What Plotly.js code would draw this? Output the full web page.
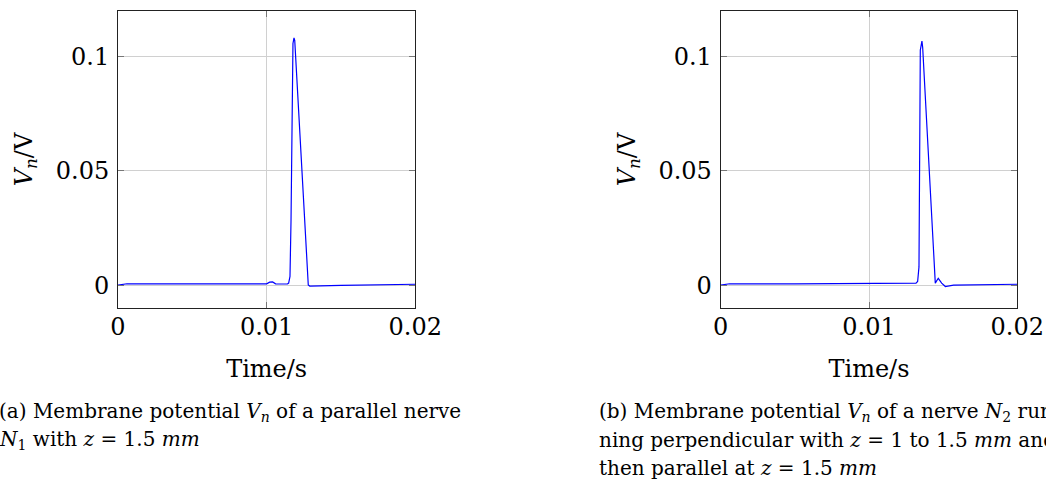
<!DOCTYPE html>
<html>
<head>
<meta charset="utf-8">
<script src="https://cdn.plot.ly/plotly-3.0.1.min.js"></script>
<style>
html,body{margin:0;padding:0;background:#fff;}
#chart{width:1046px;height:479px;}
</style>
</head>
<body>
<div id="chart"></div>
<script>
// (a) parallel nerve N1, z = 1.5 mm
const timeA = [0, 0.0003, 0.0006, 0.005, 0.0100, 0.0102, 0.0104, 0.0106, 0.0110, 0.0114, 0.01148, 0.01157, 0.01164, 0.01172, 0.01177, 0.01184, 0.01189, 0.0128, 0.0129, 0.015, 0.02];
const vnA   = [0, 0.0004, 0.0006, 0.0006, 0.0006, 0.0013, 0.0014, 0.0006, 0.0005, 0.0005, 0.0009, 0.0038, 0.0285, 0.0867, 0.1058, 0.1082, 0.1071, 0.0001, -0.0004, -0.0001, 0.0004];

// (b) nerve N2 perpendicular then parallel
const timeB = [0, 0.0003, 0.0006, 0.005, 0.010, 0.0131, 0.01317, 0.01328, 0.01337, 0.01346, 0.0135, 0.01357, 0.01362, 0.01407, 0.01447, 0.01467, 0.0149, 0.01515, 0.01546, 0.0157, 0.02];
const vnB   = [0, 0.0004, 0.0006, 0.0006, 0.0006, 0.0006, 0.0009, 0.0016, 0.008, 0.1029, 0.1047, 0.1068, 0.104, 0.05, 0.0009, 0.003, 0.0009, -0.0006, -0.0002, 0.0, 0.0004];

const xTicks = [0, 0.01, 0.02];
const xTickText = ['0', '0.01', '0.02'];
const yTicks = [0, 0.05, 0.1];
const yTickText = ['0', '0.05', '0.1'];

const xTitle = 'Time/s';
const yTitle = '<i>V<sub>n</sub></i>/V';
const captionA = ['(a) Membrane potential <i>V<sub>n</sub></i> of a parallel nerve',
                  '<i>N</i><sub>1</sub> with <i>z</i> = 1.5 <i>mm</i>'];
const captionB = ['(b) Membrane potential <i>V<sub>n</sub></i> of a nerve <i>N</i><sub>2</sub> run-',
                  'ning perpendicular with <i>z</i> = 1 to 1.5 <i>mm</i> and',
                  'then parallel at <i>z</i> = 1.5 <i>mm</i>'];

const FONT = 'DejaVu Serif, Liberation Serif, serif';
const W = 1046, H = 479;

const traces = [
  {x: timeA, y: vnA, xaxis: 'x', yaxis: 'y', type: 'scatter', mode: 'lines',
   line: {color: '#0000ff', width: 1.2}, hoverinfo: 'skip'},
  {x: timeB, y: vnB, xaxis: 'x2', yaxis: 'y2', type: 'scatter', mode: 'lines',
   line: {color: '#0000ff', width: 1.2}, hoverinfo: 'skip'}
];

function xax(domain, anchor) {
  return {
    domain: domain, anchor: anchor, range: [0, 0.02],
    tickmode: 'array', tickvals: xTicks, ticktext: xTickText,
    ticks: 'inside', ticklen: 6, tickcolor: '#777', tickwidth: 1,
    showline: true, linecolor: '#222', linewidth: 1, mirror: 'ticks',
    showgrid: true, gridcolor: '#d0d0d0', gridwidth: 1, zeroline: false,
    tickfont: {family: FONT, size: 24, color: '#000'},
    ticklabelstandoff: -3,
    title: {text: xTitle, font: {family: FONT, size: 24, color: '#000'}, standoff: 20},
    automargin: false
  };
}
function yax(domain, anchor) {
  return {
    domain: domain, anchor: anchor, range: [-0.01, 0.12],
    tickmode: 'array', tickvals: yTicks, ticktext: yTickText,
    ticks: 'inside', ticklen: 6, tickcolor: '#777', tickwidth: 1,
    showline: true, linecolor: '#222', linewidth: 1, mirror: 'ticks',
    showgrid: true, gridcolor: '#d0d0d0', gridwidth: 1, zeroline: false,
    tickfont: {family: FONT, size: 24, color: '#000'},
    ticklabelstandoff: 3,
    title: {text: yTitle, font: {family: FONT, size: 24, color: '#000'}, standoff: 16},
    automargin: false
  };
}

const annotations = [];
captionA.forEach((t, i) => annotations.push({
  text: t, xref: 'paper', yref: 'paper', x: -3 / W, y: 1 - (412 + 28 * i - 11) / (H - 11 - 171),
  xanchor: 'left', yanchor: 'middle', showarrow: false, align: 'left',
  font: {family: FONT, size: 20, color: '#000'}
}));
captionB.forEach((t, i) => annotations.push({
  text: t, xref: 'paper', yref: 'paper', x: 597 / W, y: 1 - (412 + 28 * i - 11) / (H - 11 - 171),
  xanchor: 'left', yanchor: 'middle', showarrow: false, align: 'left',
  font: {family: FONT, size: 20, color: '#000'}
}));

const layout = {
  width: W, height: H,
  margin: {l: 0, r: 0, t: 11, b: 171, pad: 0},
  paper_bgcolor: '#fff', plot_bgcolor: '#fff',
  showlegend: false,
  xaxis: xax([118 / W, 415.3 / W], 'y'),
  yaxis: yax([0, 1], 'x'),
  xaxis2: xax([720.7 / W, 1017.3 / W], 'y2'),
  yaxis2: yax([0, 1], 'x2'),
  annotations: annotations
};

Plotly.newPlot('chart', traces, layout, {displayModeBar: false, staticPlot: true});
</script>
</body>
</html>
